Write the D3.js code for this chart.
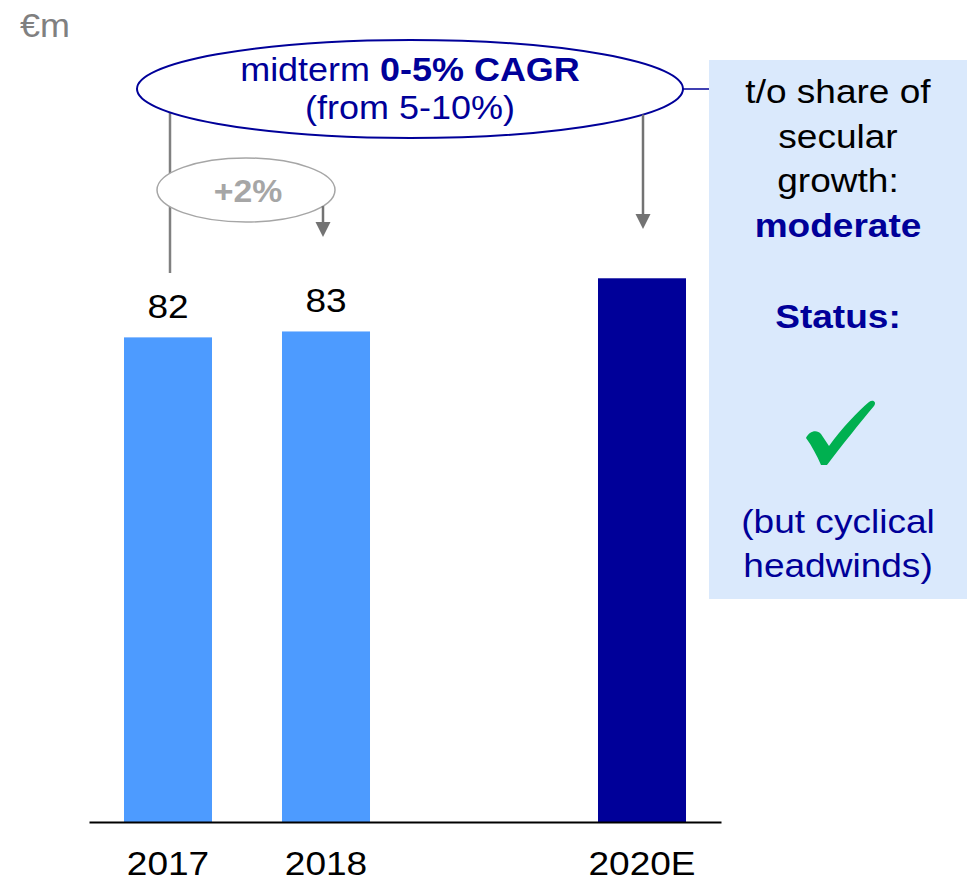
<!DOCTYPE html>
<html>
<head>
<meta charset="utf-8">
<script src="https://cdn.jsdelivr.net/npm/d3@7"></script>
<style>
  html, body { margin: 0; padding: 0; background: #ffffff; }
  svg { display: block; }
  text { font-family: "Liberation Sans", Arial, sans-serif; }
</style>
</head>
<body>
<div id="chart"></div>
<script>
// ---- Data ----
const categories = ["2017", "2018", "2019", "2020E"];
const tickLabels = ["2017", "2018", "", "2020E"];
const values = [82, 83, null, 92];
const valueLabels = ["82", "83", "", ""];
const barColors = ["#4d9bff", "#4d9bff", "#4d9bff", "#000099"];
const unitLabel = "€m";
const cagrLine1 = ["midterm ", "0-5% CAGR"];
const cagrLine2 = "(from 5-10%)";
const growthLabel = "+2%";
const boxLines = [
  { t: "t/o share of", bold: false, color: "#000000" },
  { t: "secular", bold: false, color: "#000000" },
  { t: "growth:", bold: false, color: "#000000" },
  { t: "moderate", bold: true, color: "#000099" },
  { t: "Status:", bold: true, color: "#000099" },
  { t: "(but cyclical", bold: false, color: "#000099" },
  { t: "headwinds)", bold: false, color: "#000099" }
];

// ---- Layout ----
const W = 967, H = 882;
const baseY = 822;
const svg = d3.select("#chart").append("svg").attr("width", W).attr("height", H);

const x = d3.scaleBand().domain(categories).range([89, 721])
  .paddingInner(0.443).paddingOuter(0.2215);
const y = d3.scaleLinear().domain([0, 100]).range([baseY, baseY - 591]);

const SX = 1.09; // horizontal stretch of text seen in reference
function txt(g, px, py, str, size, color, weight, anchor) {
  return g.append("text")
    .attr("transform", `translate(${px},${py}) scale(${SX},1)`)
    .attr("text-anchor", anchor || "middle")
    .attr("font-size", size)
    .attr("font-weight", weight || "normal")
    .attr("fill", color)
    .text(str);
}

// Unit label
txt(svg, 20, 37, unitLabel, 33, "#808080", "normal", "start");

// Bars
svg.append("g").selectAll("rect")
  .data(categories.map((c, i) => ({ c, v: values[i], col: barColors[i] })).filter(d => d.v != null))
  .join("rect")
  .attr("x", d => x(d.c))
  .attr("width", x.bandwidth())
  .attr("y", d => y(d.v))
  .attr("height", d => y(0) - y(d.v))
  .attr("fill", d => d.col);

// Value labels
categories.forEach((c, i) => {
  if (values[i] != null && valueLabels[i]) {
    txt(svg, x(c) + x.bandwidth() / 2, y(values[i]) - 19, valueLabels[i], 34, "#000000");
  }
});

// Baseline axis
const axis = d3.axisBottom(x).tickSize(0).tickFormat((d, i) => tickLabels[i]);
const axG = svg.append("g").attr("transform", `translate(0,${baseY})`).call(axis);
axG.select(".domain").attr("stroke", "#000").attr("stroke-width", 2);
axG.selectAll(".tick text")
  .attr("font-size", 34)
  .attr("fill", "#000")
  .attr("font-family", "'Liberation Sans', Arial, sans-serif")
  .attr("y", 0).attr("dy", 0)
  .attr("transform", `translate(0,53) scale(${SX},1)`);

// Big ellipse
const E = { cx: 410, cy: 89, rx: 273, ry: 49 };
function ellY(e, px) { const d = (px - e.cx) / e.rx; return e.cy + e.ry * Math.sqrt(Math.max(0, 1 - d * d)); }

const c17 = x("2017") + x.bandwidth() / 2;
const c18 = x("2018") + x.bandwidth() / 2;
const c20 = x("2020E") + x.bandwidth() / 2;

// gray connector from 2017 up to big ellipse
svg.append("line")
  .attr("x1", c17 + 2).attr("x2", c17 + 2)
  .attr("y1", ellY(E, c17 + 2)).attr("y2", 273)
  .attr("stroke", "#808080").attr("stroke-width", 2.5);

// small ellipse
const S = { cx: 246, cy: 190, rx: 89, ry: 32 };
svg.append("ellipse").attr("cx", S.cx).attr("cy", S.cy).attr("rx", S.rx).attr("ry", S.ry)
  .attr("fill", "#ffffff").attr("stroke", "#a6a6a6").attr("stroke-width", 1.5);
txt(svg, S.cx + 2, 202, growthLabel, 31, "#a6a6a6", "bold");

function arrow(px, y1, y2) {
  svg.append("line").attr("x1", px).attr("x2", px).attr("y1", y1).attr("y2", y2 - 14)
    .attr("stroke", "#737373").attr("stroke-width", 2.5);
  svg.append("path")
    .attr("d", `M${px - 7.5},${y2 - 15} L${px + 7.5},${y2 - 15} L${px},${y2} Z`)
    .attr("fill", "#737373");
}
// small arrow (2017 -> 2018)
arrow(c18 - 3, ellY(S, c18 - 3), 237);

// big ellipse drawn
svg.append("ellipse").attr("cx", E.cx).attr("cy", E.cy).attr("rx", E.rx).attr("ry", E.ry)
  .attr("fill", "#ffffff").attr("stroke", "#000099").attr("stroke-width", 2);

// big arrow (to 2020E)
arrow(c20 + 1, ellY(E, c20 + 1), 229);

// CAGR text
const t1 = svg.append("text")
  .attr("transform", `translate(${E.cx},81) scale(${SX},1)`)
  .attr("text-anchor", "middle").attr("font-size", 33).attr("fill", "#000099");
t1.append("tspan").text(cagrLine1[0]);
t1.append("tspan").attr("font-weight", "bold").text(cagrLine1[1]);
txt(svg, E.cx, 119, cagrLine2, 33, "#000099");

// Side box
const box = { x: 709, y: 60, w: 258, h: 539 };
svg.append("rect").attr("x", box.x).attr("y", box.y).attr("width", box.w).attr("height", box.h)
  .attr("fill", "#dae9fc");
// connector from ellipse to box
svg.append("line").attr("x1", E.cx + E.rx).attr("x2", box.x).attr("y1", E.cy).attr("y2", E.cy)
  .attr("stroke", "#000099").attr("stroke-width", 1.5);

const boxCx = 838;
const baselines = [103, 148, 192, 237, 328, 533, 577];
boxLines.forEach((l, i) => {
  txt(svg, boxCx, baselines[i], l.t, 34, l.color, l.bold ? "bold" : "normal");
});

// Check mark
svg.append("path")
  .attr("d", "M806,438 C809,431 817,429 821,434 L829,446 C842,428 858,411 869,402 C873,399 877,402 874,406 C860,423 842,445 827,465 L821,465 C817,456 812,446 806,438 Z")
  .attr("fill", "#00b050");
</script>
</body>
</html>
